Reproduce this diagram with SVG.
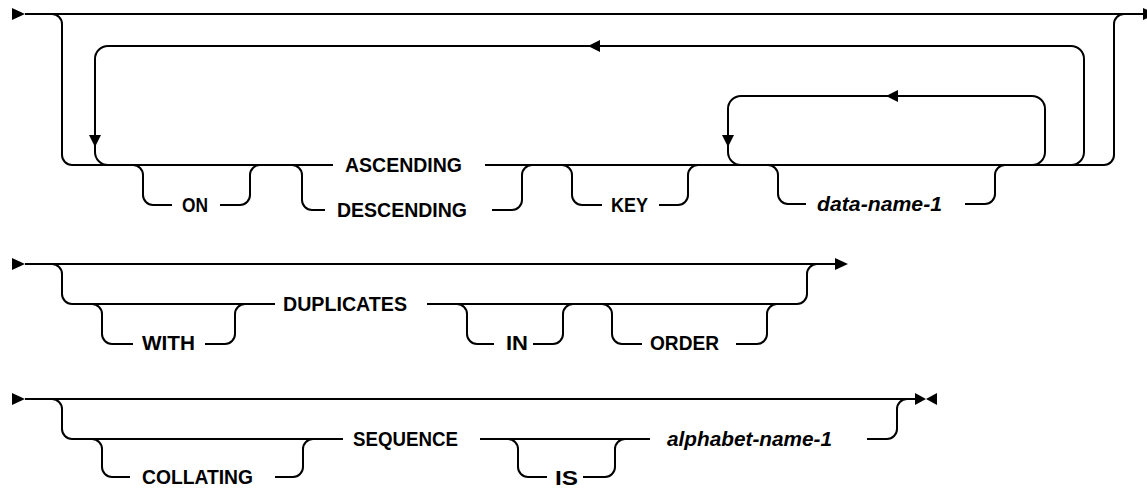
<svg xmlns="http://www.w3.org/2000/svg" width="1147" height="489" viewBox="0 0 1147 489">
<style>
.ln{fill:none;stroke:#000;stroke-width:2}
.ar{fill:#000;stroke:none}
.kw{font-family:"Liberation Sans",Arial,sans-serif;font-size:20.5px;font-weight:bold;fill:#000}
.var{font-family:"Liberation Sans",Arial,sans-serif;font-size:20.5px;font-weight:bold;font-style:italic;fill:#000}
</style>
<rect width="1147" height="489" fill="#fff"/>
<g id="connectors">
<!-- Row 1 -->
<path class="ln" d="M25,14 H1143"/>
<polygon class="ar" points="12,8 12,20 25,14"/>
<polygon class="ar" points="1143,8 1143,20 1156,14"/>
<path class="ln" d="M52,14 A10 10 0 0 1 62,24 V155 A10 10 0 0 0 72,165 H333"/>
<path class="ln" d="M485,165 H1104 A10 10 0 0 0 1114,155 V24 A10 10 0 0 1 1124,14"/>
<path class="ln" d="M133,165 A10 10 0 0 1 143,175 V195 A10 10 0 0 0 153,205 H172"/>
<path class="ln" d="M220,205 H240 A10 10 0 0 0 250,195 V175 A10 10 0 0 1 260,165"/>
<path class="ln" d="M292,165 A10 10 0 0 1 302,175 V200 A10 10 0 0 0 312,210 H325"/>
<path class="ln" d="M492,210 H512 A10 10 0 0 0 522,200 V175 A10 10 0 0 1 532,165"/>
<path class="ln" d="M562,165 A10 10 0 0 1 572,175 V195 A10 10 0 0 0 582,205 H602"/>
<path class="ln" d="M659,205 H678 A10 10 0 0 0 688,195 V175 A10 10 0 0 1 698,165"/>
<path class="ln" d="M768,165 A10 10 0 0 1 778,175 V194 A10 10 0 0 0 788,204 H806"/>
<path class="ln" d="M965,204 H985 A10 10 0 0 0 995,194 V175 A10 10 0 0 1 1005,165"/>
<path class="ln" d="M1032,165 A13 13 0 0 0 1045,152 V109 A13 13 0 0 0 1032,96 H741 A13 13 0 0 0 728,109 V152 A13 13 0 0 0 741,165"/>
<path class="ln" d="M1071,165 A13 13 0 0 0 1084,152 V59 A13 13 0 0 0 1071,46 H108 A13 13 0 0 0 95,59 V152 A13 13 0 0 0 108,165"/>
<polygon class="ar" points="89,135 101,135 95,147"/>
<polygon class="ar" points="722,135 734,135 728,147"/>
<polygon class="ar" points="600,40 600,52 588,46"/>
<polygon class="ar" points="898,90 898,102 886,96"/>
<!-- Row 2 -->
<path class="ln" d="M25,264 H835"/>
<polygon class="ar" points="12,258 12,270 25,264"/>
<polygon class="ar" points="835,258 835,270 848,264"/>
<path class="ln" d="M52,264 A10 10 0 0 1 62,274 V294 A10 10 0 0 0 72,304 H275"/>
<path class="ln" d="M427,304 H797 A10 10 0 0 0 807,294 V274 A10 10 0 0 1 817,264"/>
<path class="ln" d="M92,304 A10 10 0 0 1 102,314 V334 A10 10 0 0 0 112,344 H133"/>
<path class="ln" d="M205,344 H225 A10 10 0 0 0 235,334 V314 A10 10 0 0 1 245,304"/>
<path class="ln" d="M457,304 A10 10 0 0 1 467,314 V334 A10 10 0 0 0 477,344 H494"/>
<path class="ln" d="M533,344 H553 A10 10 0 0 0 563,334 V314 A10 10 0 0 1 573,304"/>
<path class="ln" d="M602,304 A10 10 0 0 1 612,314 V334 A10 10 0 0 0 622,344 H642"/>
<path class="ln" d="M736,344 H757 A10 10 0 0 0 767,334 V314 A10 10 0 0 1 777,304"/>
<!-- Row 3 -->
<path class="ln" d="M25,399 H915"/>
<polygon class="ar" points="12,393 12,405 25,399"/>
<polygon class="ar" points="915,393 915,405 926,399"/>
<polygon class="ar" points="937,393 937,405 926,399"/>
<path class="ln" d="M52,399 A10 10 0 0 1 62,409 V429 A10 10 0 0 0 72,439 H343"/>
<path class="ln" d="M480,439 H650"/>
<path class="ln" d="M867,439 H887 A10 10 0 0 0 897,429 V409 A10 10 0 0 1 907,399"/>
<path class="ln" d="M92,439 A10 10 0 0 1 102,449 V467 A10 10 0 0 0 112,477 H130"/>
<path class="ln" d="M275,477 H293 A10 10 0 0 0 303,467 V449 A10 10 0 0 1 313,439"/>
<path class="ln" d="M508,439 A10 10 0 0 1 518,449 V467 A10 10 0 0 0 528,477 H547"/>
<path class="ln" d="M583,477 H605 A10 10 0 0 0 615,467 V449 A10 10 0 0 1 625,439"/>
</g>
<g id="node-on"><text class="kw" x="182" y="212" textLength="26" lengthAdjust="spacingAndGlyphs">ON</text></g>
<g id="node-ascending"><text class="kw" x="345" y="172" textLength="117" lengthAdjust="spacingAndGlyphs">ASCENDING</text></g>
<g id="node-descending"><text class="kw" x="337" y="217" textLength="130" lengthAdjust="spacingAndGlyphs">DESCENDING</text></g>
<g id="node-key"><text class="kw" x="611" y="212" textLength="37" lengthAdjust="spacingAndGlyphs">KEY</text></g>
<g id="node-data-name-1"><text class="var" x="817" y="211" textLength="125" lengthAdjust="spacingAndGlyphs">data-name-1</text></g>
<g id="node-with"><text class="kw" x="142" y="350" textLength="53" lengthAdjust="spacingAndGlyphs">WITH</text></g>
<g id="node-duplicates"><text class="kw" x="283" y="311" textLength="124" lengthAdjust="spacingAndGlyphs">DUPLICATES</text></g>
<g id="node-in"><text class="kw" x="506" y="350" textLength="22" lengthAdjust="spacingAndGlyphs">IN</text></g>
<g id="node-order"><text class="kw" x="650" y="350" textLength="69" lengthAdjust="spacingAndGlyphs">ORDER</text></g>
<g id="node-collating"><text class="kw" x="142" y="484" textLength="111" lengthAdjust="spacingAndGlyphs">COLLATING</text></g>
<g id="node-sequence"><text class="kw" x="353" y="446" textLength="105" lengthAdjust="spacingAndGlyphs">SEQUENCE</text></g>
<g id="node-is"><text class="kw" x="555" y="485" textLength="23" lengthAdjust="spacingAndGlyphs">IS</text></g>
<g id="node-alphabet-name-1"><text class="var" x="667" y="446" textLength="165" lengthAdjust="spacingAndGlyphs">alphabet-name-1</text></g>
</svg>
